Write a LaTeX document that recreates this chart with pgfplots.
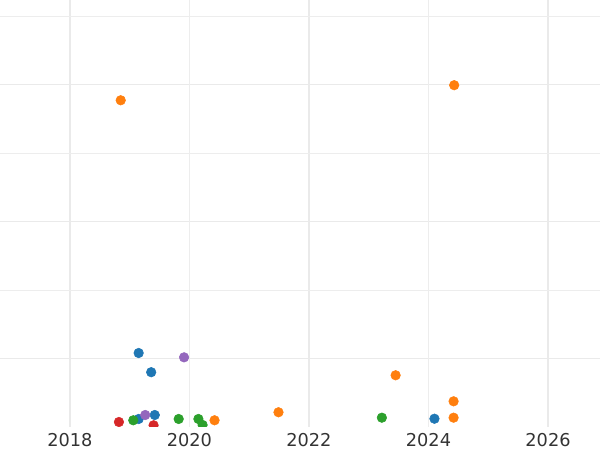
\documentclass[border=0pt]{standalone}
\usepackage{fontspec}
\setmainfont{DejaVu Sans}
\usepackage{pgfplots}
\pgfplotsset{compat=1.18}
\definecolor{cblue}{HTML}{1F77B4}
\definecolor{corange}{HTML}{FF7F0E}
\definecolor{cgreen}{HTML}{2CA02C}
\definecolor{cred}{HTML}{D62728}
\definecolor{cpurple}{HTML}{9467BD}
\definecolor{gridc}{HTML}{EAEAEA}
\definecolor{gridm}{HTML}{EDEDED}
\definecolor{labc}{HTML}{333333}
\begin{document}
\begin{tikzpicture}
\begin{axis}[
  name=ax, at={(0,0)}, anchor=south west,
  scale only axis, width=450pt, height=320.25pt,
  xmin=2016.83, xmax=2026.87, ymin=0, ymax=6.234,
  axis line style={draw=none},
  major tick length=0pt, minor tick length=0pt,
  xtick={2018,2022,2026},
  /pgf/number format/1000 sep={},
  /pgf/number format/assume math mode=true,
  xticklabel style={font=\fontsize{13.3}{16}\selectfont, text=labc, inner sep=0pt, anchor=north, yshift=-4.5pt},
  extra x ticks={2020,2024},
  extra x tick style={major grid style={color=gridm, line width=0.75pt}},
  ytick={1,3,5}, minor ytick={2,4,6}, yticklabels={},
  grid=both,
  major grid style={color=gridc, line width=1.1pt},
  minor grid style={color=gridm, line width=0.75pt},
  clip marker paths=true,
  every axis plot/.append style={only marks, mark=*, mark size=3.6pt},
]
% blue
\addplot[mark options={fill=cblue, draw=cblue}] coordinates {
(2019.15,1.08) (2019.36,0.80) (2019.42,0.175) (2019.15,0.117) (2024.10,0.121)};
% orange
\addplot[mark options={fill=corange, draw=corange}] coordinates {
(2018.85,4.77) (2024.43,4.99) (2023.45,0.755) (2024.42,0.375) (2024.42,0.136) (2021.49,0.215) (2020.42,0.098)};
% green
\addplot[mark options={fill=cgreen, draw=cgreen}] coordinates {
(2019.06,0.098) (2019.82,0.117) (2020.15,0.117) (2020.22,0.03) (2023.22,0.136)};
% red
\addplot[mark options={fill=cred, draw=cred}] coordinates {
(2018.82,0.073) (2019.40,0.025)};
% purple
\addplot[mark options={fill=cpurple, draw=cpurple}] coordinates {
(2019.91,1.017) (2019.26,0.175)};
\end{axis}
\pgfresetboundingbox
\path[use as bounding box] (0,-17.25pt) rectangle (450pt,320.25pt);
\end{tikzpicture}
\end{document}
